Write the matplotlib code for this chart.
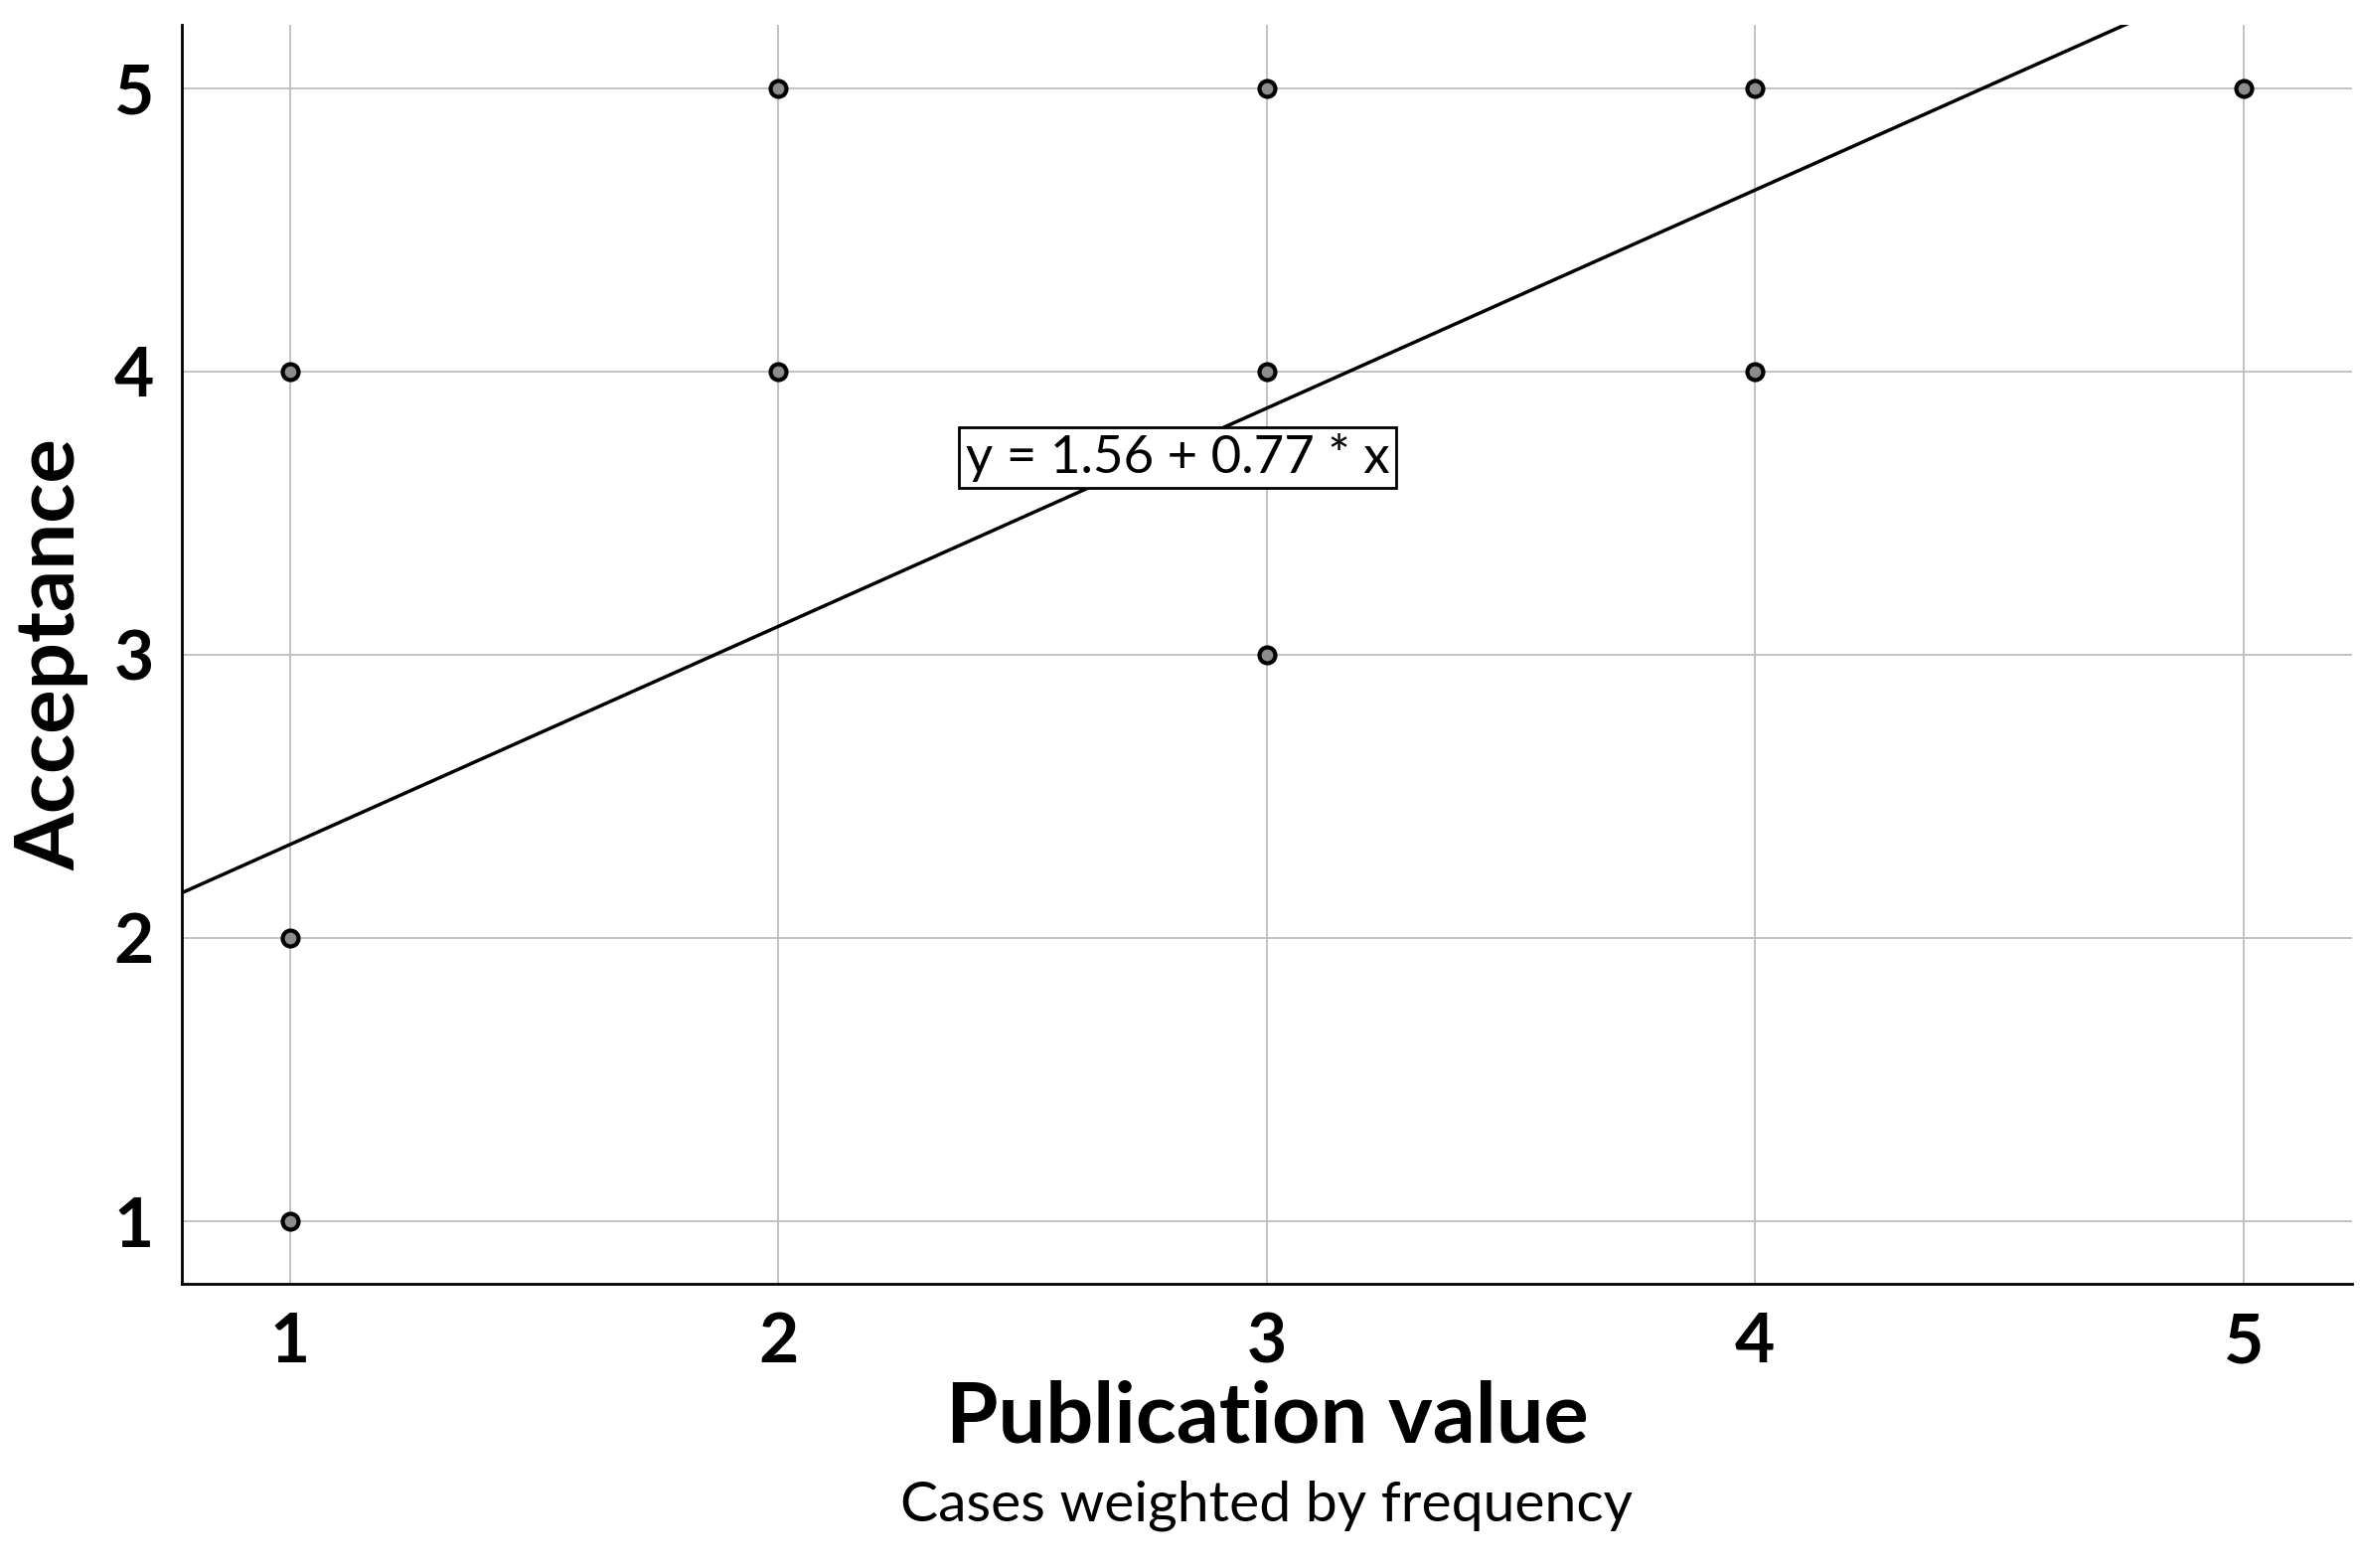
import matplotlib
matplotlib.use("Agg")
import matplotlib.pyplot as plt
import numpy as np

# observed cases (publication value vs acceptance)
pub_value = [1, 1, 1, 2, 2, 3, 3, 3, 4, 4, 5]
acceptance = [4, 2, 1, 5, 4, 5, 4, 3, 5, 4, 5]

intercept = 1.56
slope = 0.77
ticks = [1, 2, 3, 4, 5]
lims = (0.778, 5.222)

plt.rcParams['font.family'] = ['Lato', 'DejaVu Sans']

fig = plt.figure(figsize=(23.75, 15.78), dpi=100)
ax_left, ax_width = 0.077, 0.9196
ax = fig.add_axes([ax_left, 0.181, ax_width, 0.803])

ax.grid(True, color='#bdbdbd', linewidth=1.3, zorder=0)
ax.set_axisbelow(True)

xs = np.array(lims)
ax.plot(xs, intercept + slope * xs, color='black', linewidth=2.5, zorder=3)
ax.plot(pub_value, acceptance, 'o', markersize=11.5, markerfacecolor='#8c8c8c',
        markeredgecolor='black', markeredgewidth=3, zorder=4)

ax.text(2.817, 3.695, f"y = {intercept:.2f} + {slope:.2f} * x", fontsize=38,
        ha='center', va='center', zorder=5,
        bbox=dict(boxstyle='square,pad=0.12', facecolor='white',
                  edgecolor='black', linewidth=2))

ax.set_xlim(*lims)
ax.set_ylim(*lims)
ax.set_xticks(ticks)
ax.set_yticks(ticks)
ax.tick_params(length=0, labelsize=50, pad=20)
for lab in ax.get_xticklabels() + ax.get_yticklabels():
    lab.set_fontweight('bold')

for side in ['top', 'right']:
    ax.spines[side].set_visible(False)
for side in ['left', 'bottom']:
    ax.spines[side].set_linewidth(2)

ax.set_ylabel("Acceptance", fontsize=60, fontweight='bold', labelpad=18)
xc = ax_left + ax_width / 2
fig.text(xc, 1 - 1427 / 1578, "Publication value", fontsize=61,
         fontweight='bold', ha='center', va='center')
fig.text(xc, 1 - 1515 / 1578, "Cases weighted by frequency", fontsize=41,
         ha='center', va='center')

fig.savefig("out.png", dpi=100)
